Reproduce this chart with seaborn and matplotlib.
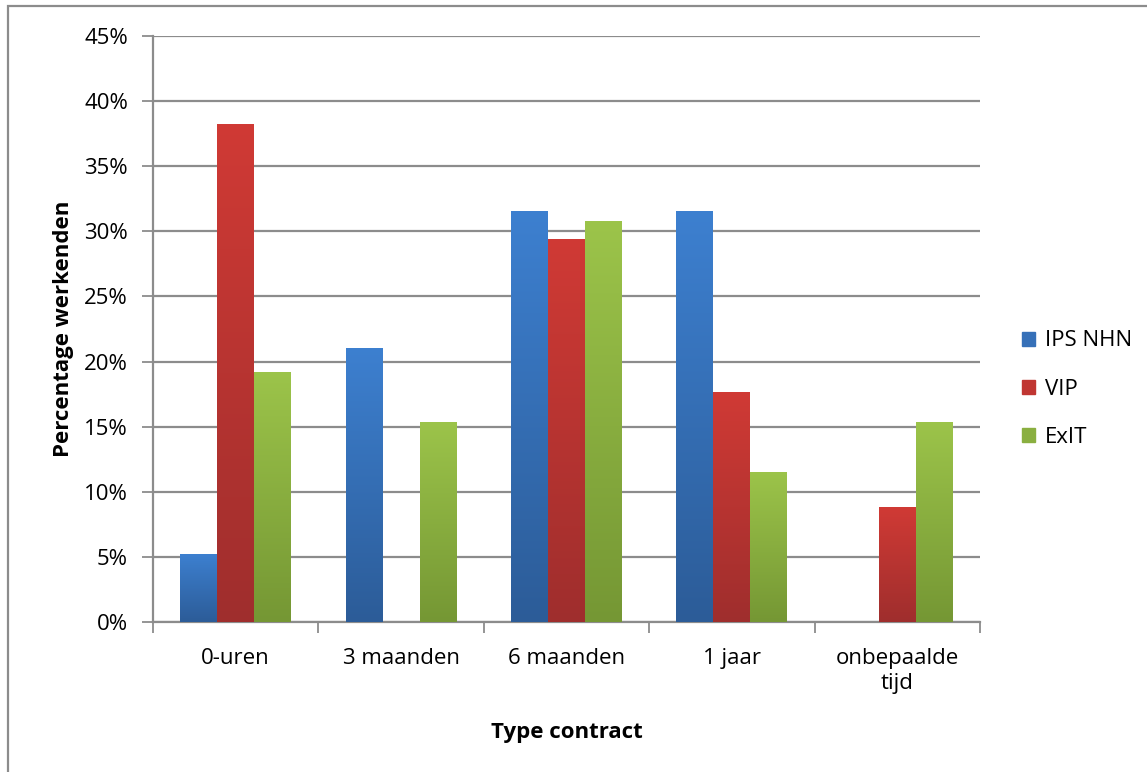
import numpy as np
import pandas as pd
import matplotlib
matplotlib.use("Agg")
import matplotlib.pyplot as plt
from matplotlib.colors import LinearSegmentedColormap
from matplotlib.patches import Rectangle
import seaborn as sns

categories = ["0-uren", "3 maanden", "6 maanden", "1 jaar", "onbepaalde\ntijd"]
series = ["IPS NHN", "VIP", "ExIT"]
ips_nhn = [5.26, 21.05, 31.58, 31.58, 0.0]
vip = [38.24, 0.0, 29.41, 17.65, 8.82]
exit_ = [19.23, 15.38, 30.77, 11.54, 15.38]
yticks = [0, 5, 10, 15, 20, 25, 30, 35, 40, 45]

# gradient end colours per series: (top, bottom)
grad = {
    "IPS NHN": ("#3d80d0", "#2c5c98"),
    "VIP": ("#d03a35", "#9f2e2d"),
    "ExIT": ("#9cc44a", "#759734"),
}
mid = {"IPS NHN": "#3670b8", "VIP": "#c03632", "ExIT": "#8aaf40"}

df = pd.DataFrame({
    "Type contract": categories * 3,
    "Serie": [s for s in series for _ in categories],
    "Waarde": ips_nhn + vip + exit_,
})

sns.set_theme(style="white")
plt.rcParams["font.family"] = ["Open Sans", "DejaVu Sans"]
plt.rcParams["text.color"] = "black"
plt.rcParams["axes.labelcolor"] = "black"

FS = 16

fig = plt.figure(figsize=(11.47, 7.72), dpi=100)
ax = fig.add_axes([0.1334, 0.1943, 0.7210, 0.7591])

sns.barplot(data=df, x="Type contract", y="Waarde", hue="Serie",
            hue_order=series, order=categories,
            palette=[mid[s] for s in series], width=0.67, gap=0,
            errorbar=None, ax=ax, legend=False, linewidth=0, zorder=3)

# paint a vertical gradient inside every bar
for container, s in zip(ax.containers, series):
    cmap = LinearSegmentedColormap.from_list(s, [grad[s][1], grad[s][0]])
    for patch in container.patches:
        h = patch.get_height()
        if h <= 0:
            continue
        x0 = patch.get_x()
        w = patch.get_width()
        g = np.linspace(0, 1, 256).reshape(-1, 1)
        im = ax.imshow(g, cmap=cmap, origin="lower", aspect="auto",
                       extent=[x0, x0 + w, 0, h], zorder=3.5)
        im.set_clip_path(patch)

ax.set_xlim(-0.5, len(categories) - 0.5)
ax.set_ylim(0, 45)
ax.set_yticks(yticks)
ax.set_yticklabels([f"{v}%" for v in yticks])
ax.yaxis.grid(True, color="#8c8c8c", linewidth=1.6, zorder=0)
ax.xaxis.grid(False)
ax.set_axisbelow(True)

ax.set_xticks(range(len(categories)))
ax.set_xticklabels(categories, linespacing=1.25)
ax.set_xticks(np.arange(-0.5, len(categories)), minor=True)
ax.tick_params(axis="x", which="major", length=0, pad=19, labelsize=FS, colors="black")
ax.tick_params(axis="x", which="minor", length=8, width=1.3, color="#8c8c8c", direction="out", bottom=True)
ax.tick_params(axis="y", length=8, width=1.3, color="#8c8c8c", direction="out", left=True,
               labelsize=FS, colors="black", pad=10)

for side in ["top", "right"]:
    ax.spines[side].set_visible(False)
for side in ["left", "bottom"]:
    ax.spines[side].set_color("#8c8c8c")
    ax.spines[side].set_linewidth(1.6)

ax.set_xlabel("Type contract", fontsize=FS, fontweight="bold", labelpad=20)
ax.set_ylabel("Percentage werkenden", fontsize=FS, fontweight="bold", labelpad=7)

handles = [Rectangle((0, 0), 1, 1, color=mid[s]) for s in series]
fig.legend(handles, series, loc="center left", bbox_to_anchor=(0.8735, 0.496),
           frameon=False, fontsize=FS, handlelength=0.6, handleheight=0.6,
           handletextpad=0.45, labelspacing=1.22)

# outer chart border
fig.add_artist(Rectangle((8 / 1147, -0.01), 1.02, 1 - 6 / 772 + 0.01,
                         transform=fig.transFigure, fill=False,
                         edgecolor="#8c8c8c", linewidth=1.6))

fig.savefig("out.png", dpi=100)
